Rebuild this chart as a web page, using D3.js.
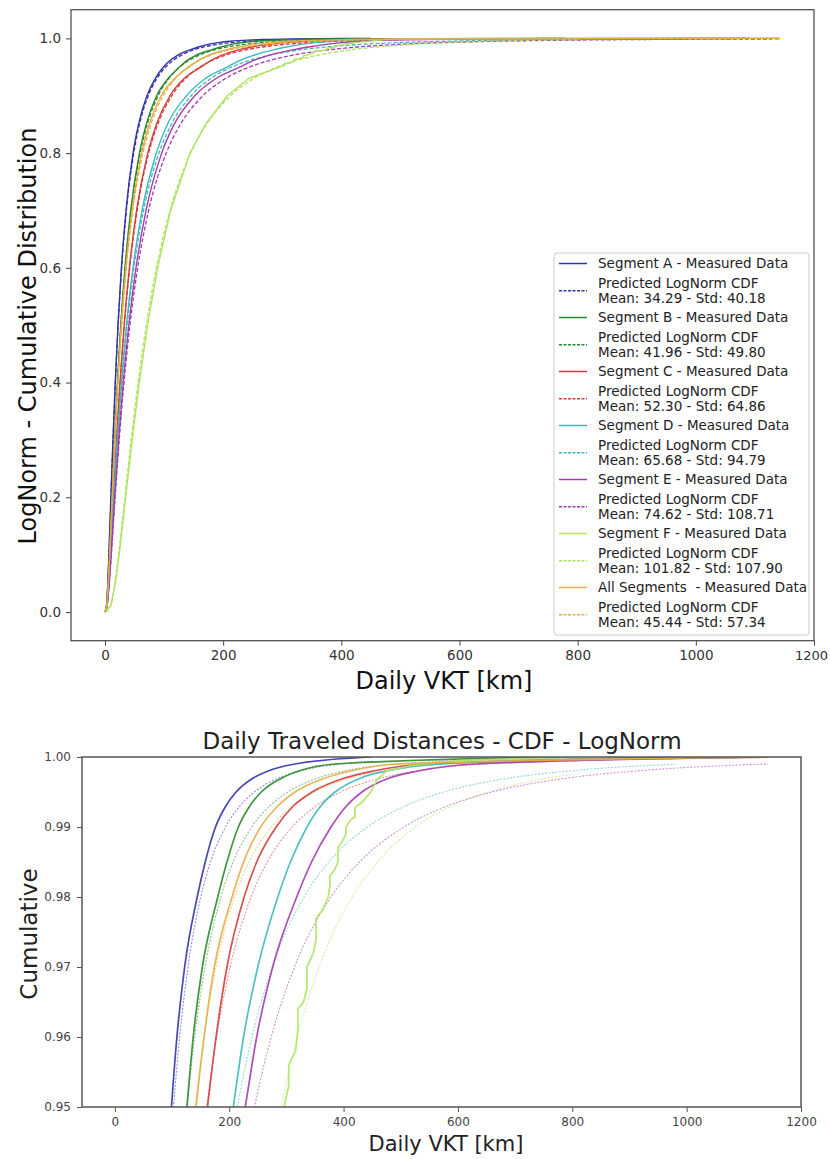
<!DOCTYPE html>
<html><head><meta charset="utf-8">
<script src="https://cdn.jsdelivr.net/npm/d3@7"></script>
<style>
body{margin:0;background:#fff}
svg{display:block;font-family:"DejaVu Sans",sans-serif}
</style>
</head><body>
<svg id="chart" width="830" height="1159"></svg>
<script>
// ---------------- DATA ----------------
const cdfLevels = [0, 0.01, 0.05, 0.1, 0.2, 0.3, 0.4, 0.5, 0.6, 0.7, 0.8, 0.85, 0.9, 0.93, 0.95, 0.96, 0.97, 0.98, 0.985, 0.99, 0.993, 0.995, 0.997, 0.998, 0.999, 1.0];

const segmentNames = ["Segment A", "Segment B", "Segment C", "Segment D", "Segment E", "Segment F", "All Segments "];
const predictedMeans = [34.29, 41.96, 52.30, 65.68, 74.62, 101.82, 45.44];
const predictedStds  = [40.18, 49.80, 64.86, 94.79, 108.71, 107.90, 57.34];

// measured data: daily VKT at each cumulative level (last = 1.0)
const measA = [0, 2.4, 4.7, 6.6, 10.0, 13.5, 17.4, 22.0, 27.8, 35.6, 47.5, 56.8, 71.0, 85.0, 99.0, 108.5, 122.0, 144.0, 158.0, 176.0, 194.0, 212.0, 242.0, 268.0, 315.0, 450];
const measB = [0, 3.0, 5.7, 8.0, 12.1, 16.3, 21.0, 26.7, 33.8, 43.5, 58.3, 69.8, 87.5, 107.0, 126.0, 137.0, 153.0, 180.0, 196.0, 216.0, 236.0, 256.0, 292.0, 322.0, 385.0, 780];
const measC = [0, 3.4, 6.6, 9.4, 14.4, 19.6, 25.4, 32.4, 41.3, 53.5, 72.4, 87.0, 110.0, 134.0, 162.0, 177.0, 196.0, 226.0, 248.0, 282.0, 312.0, 345.0, 402.0, 452.0, 545.0, 1090];
const measD = [0, 3.1, 6.4, 9.4, 15.0, 21.0, 27.9, 36.4, 47.4, 62.8, 86.8, 105.5, 138.0, 170.0, 207.0, 225.0, 250.0, 285.0, 307.0, 336.0, 360.0, 385.0, 430.0, 475.0, 570.0, 980];
const measE = [0, 3.4, 7.1, 10.4, 16.6, 23.2, 30.9, 40.3, 52.5, 69.5, 96.0, 117.0, 152.0, 188.0, 228.0, 248.0, 276.0, 318.0, 344.0, 378.0, 405.0, 432.0, 480.0, 530.0, 630.0, 1142];
const measAll = [0, 2.9, 5.6, 7.9, 12.2, 16.6, 21.6, 27.6, 35.3, 45.8, 62.0, 74.8, 95.0, 118.0, 142.0, 156.0, 174.0, 205.0, 225.0, 255.0, 285.0, 315.0, 368.0, 412.0, 495.0, 1142];
// segment F measured data is step-like (own cumulative levels)
const measF = [0, 9.5, 17.5, 24, 35, 46, 58, 72, 89, 111, 144, 170, 207, 243, 268, 283, 296, 304, 304, 316, 320, 320, 330, 336, 336, 347, 352, 352, 362, 373, 376, 376, 385, 390, 390, 398, 404, 404, 412, 420, 420, 432, 440, 446, 452, 458, 475, 520, 600, 800];
const measFLevels = [0, 0.01, 0.05, 0.1, 0.2, 0.3, 0.4, 0.5, 0.6, 0.7, 0.8, 0.85, 0.9, 0.93, 0.94, 0.945, 0.95, 0.953, 0.956, 0.958, 0.961, 0.964, 0.965, 0.967, 0.970, 0.972, 0.974, 0.977, 0.978, 0.98, 0.9815, 0.983, 0.984, 0.985, 0.987, 0.988, 0.989, 0.990, 0.991, 0.9915, 0.9928, 0.9935, 0.9943, 0.9948, 0.9957, 0.9967, 0.998, 0.9988, 0.9995, 1.0];

// predicted LogNorm CDF: daily VKT at each cumulative level (null = beyond data range)
const predA = [0, 2.56, 4.82, 6.76, 10.18, 13.67, 17.59, 22.26, 28.17, 36.24, 48.67, 58.33, 73.27, 87.76, 102.7, 113.3, 127.9, 150.2, 167.3, 193.5, 218.6, 244.0, 286.4, 323.3, 393.7, null];
const predB = [0, 3.05, 5.78, 8.13, 12.28, 16.53, 21.32, 27.04, 34.28, 44.21, 59.52, 71.45, 89.9, 107.9, 126.4, 139.6, 157.7, 185.4, 206.8, 239.4, 270.7, 302.5, 355.4, 401.7, 490.0, null];
const predC = [0, 3.48, 6.71, 9.53, 14.57, 19.79, 25.71, 32.83, 41.92, 54.46, 73.96, 89.25, 113.1, 136.4, 160.6, 177.9, 201.6, 238.3, 266.6, 310.0, 351.7, 394.4, 465.5, 528.0, 648.1, null];
const predD = [0, 3.17, 6.53, 9.60, 15.32, 21.45, 28.59, 37.40, 48.96, 65.26, 91.37, 112.3, 145.8, 179.1, 214.3, 239.8, 275.2, 330.7, 374.1, 441.5, 507.4, 575.4, 690.6, 793.1, null, null];
const predE = [0, 3.53, 7.30, 10.76, 17.20, 24.13, 32.23, 42.22, 55.33, 73.90, 103.7, 127.6, 165.8, 203.9, 244.3, 273.5, 314.2, 377.9, 427.9, 505.5, 581.3, 659.6, 792.5, 910.7, null, null];
const predF = [0, 9.29, 16.77, 22.98, 33.67, 44.33, 56.09, 69.88, 87.06, 110.2, 145.0, 171.8, 212.5, 251.5, 291.1, 319.1, 357.2, 415.1, 459.3, 525.9, 589.3, 653.0, 758.1, null, null, null];
const predAll = [0, 2.92, 5.67, 8.08, 12.41, 16.92, 22.04, 28.22, 36.13, 47.08, 64.15, 77.61, 98.59, 119.2, 140.5, 155.8, 176.9, 209.4, 234.6, 273.3, 310.6, 348.6, 412.4, 468.3, 576.0, null];
// last predicted point (largest measured VKT, CDF value there)
const predEndX = [450, 780, 1090, 980, 1142, 800, 1142];
const predEndP = [0.99939, 0.99983, 0.99986, 0.99895, 0.999, 0.99752, 0.99992];

const xTicks = [0, 200, 400, 600, 800, 1000, 1200];
const xTickLabels = ["0", "200", "400", "600", "800", "1000", "1200"];
const yTopTicks = [0, 0.2, 0.4, 0.6, 0.8, 1.0];
const yTopTickLabels = ["0.0", "0.2", "0.4", "0.6", "0.8", "1.0"];
const yBotTicks = [0.95, 0.96, 0.97, 0.98, 0.99, 1.00];
const yBotTickLabels = ["0.95", "0.96", "0.97", "0.98", "0.99", "1.00"];

// ---------------- STYLE ----------------
const colors = ["#3333a8", "#2b8a2b", "#d43c3c", "#3cbaba", "#a43ab0", "#aee45e", "#e2ae44"];

// ---------------- BUILD SERIES ----------------
const measuredX = [measA, measB, measC, measD, measE, measF, measAll];
const predictedX = [predA, predB, predC, predD, predE, predF, predAll];
function zip(xs, ps) { return xs.map((x, i) => [x, ps[i]]).filter(d => d[0] != null); }
const series = segmentNames.map((name, i) => ({
  name, color: colors[i],
  measured: zip(measuredX[i], i === 5 ? measFLevels : cdfLevels),
  predicted: zip(predictedX[i], cdfLevels).concat([[predEndX[i], predEndP[i]]]),
  mean: predictedMeans[i], std: predictedStds[i], stepped: i === 5
}));

const svg = d3.select("#chart");

// ================= TOP CHART =================
const T = {l: 71, r: 814, t: 9.7, b: 640.7};
const xT = d3.scaleLinear().domain([-57.5, 1200]).range([T.l, T.r]);
const yT = d3.scaleLinear().domain([-0.05, 1.05]).range([T.b, T.t]);

const gTop = svg.append("g");
svg.append("clipPath").attr("id", "clipTop").append("rect")
  .attr("x", T.l).attr("y", T.t).attr("width", T.r - T.l).attr("height", T.b - T.t);
const topLines = gTop.append("g").attr("clip-path", "url(#clipTop)");
const lineTop = curve => d3.line().x(d => xT(d[0])).y(d => yT(d[1])).curve(curve);
series.forEach(s => {
  topLines.append("path").datum(s.measured)
    .attr("d", lineTop(s.stepped ? d3.curveLinear : d3.curveMonotoneX))
    .attr("fill", "none").attr("stroke", s.color).attr("stroke-width", 1.4);
  topLines.append("path").datum(s.predicted)
    .attr("d", lineTop(d3.curveMonotoneX))
    .attr("fill", "none").attr("stroke", s.color).attr("stroke-width", 1.3)
    .attr("stroke-dasharray", "4,2");
});

gTop.append("rect").attr("x", T.l).attr("y", T.t).attr("width", T.r - T.l).attr("height", T.b - T.t)
  .attr("fill", "none").attr("stroke", "#444").attr("stroke-width", 1.2);

const axXT = gTop.append("g").attr("transform", `translate(0,${T.b})`)
  .call(d3.axisBottom(xT).tickValues(xTicks).tickFormat((d, i) => xTickLabels[i]).tickSize(5).tickPadding(5));
const axYT = gTop.append("g").attr("transform", `translate(${T.l},0)`)
  .call(d3.axisLeft(yT).tickValues(yTopTicks).tickFormat((d, i) => yTopTickLabels[i]).tickSize(5).tickPadding(5));
[axXT, axYT].forEach(a => {
  a.select(".domain").remove();
  a.selectAll("line").attr("stroke", "#444");
  a.selectAll("text").attr("font-size", 13.5).attr("fill", "#333").attr("font-family", "DejaVu Sans");
});
// keep the last x tick label inside the page
axXT.selectAll(".tick text").filter((d, i) => i === xTicks.length - 1).attr("dx", -3).attr("font-size", 13);

gTop.append("text").attr("x", 444).attr("y", 689).attr("text-anchor", "middle")
  .attr("font-size", 24).attr("fill", "#111").text("Daily VKT [km]");
gTop.append("text").attr("transform", "translate(36,336) rotate(-90)").attr("text-anchor", "middle")
  .attr("font-size", 24).attr("fill", "#111").text("LogNorm - Cumulative Distribution");

// legend
const lg = gTop.append("g");
lg.append("rect").attr("x", 554).attr("y", 253).attr("width", 255).attr("height", 382).attr("rx", 3)
  .attr("fill", "#fff").attr("fill-opacity", 0.9).attr("stroke", "#ccc").attr("stroke-width", 1);
series.forEach((s, i) => {
  const y0 = 263.5 + i * 54;
  lg.append("line").attr("x1", 559).attr("x2", 587).attr("y1", y0).attr("y2", y0)
    .attr("stroke", s.color).attr("stroke-width", 1.5);
  lg.append("text").attr("x", 598).attr("y", y0).attr("dy", "0.36em").attr("font-size", 13.5)
    .attr("fill", "#222").style("white-space", "pre").text(s.name + " - Measured Data");
  const y1 = y0 + 19.5, y2 = y0 + 35;
  lg.append("line").attr("x1", 559).attr("x2", 587).attr("y1", (y1 + y2) / 2).attr("y2", (y1 + y2) / 2)
    .attr("stroke", s.color).attr("stroke-width", 1.3).attr("stroke-dasharray", "3,1.5");
  lg.append("text").attr("x", 598).attr("y", y1).attr("dy", "0.36em").attr("font-size", 13.5)
    .attr("fill", "#222").text("Predicted LogNorm CDF");
  lg.append("text").attr("x", 598).attr("y", y2).attr("dy", "0.36em").attr("font-size", 13.5)
    .attr("fill", "#222").text(`Mean: ${s.mean.toFixed(2)} - Std: ${s.std.toFixed(2)}`);
});

// ================= BOTTOM CHART =================
const B = {l: 82, r: 801, t: 757, b: 1107};
const xB = d3.scaleLinear().domain([-57.5, 1200]).range([B.l, B.r]);
const yB = d3.scaleLinear().domain([0.95, 1.0]).range([B.b, B.t]);

const gBot = svg.append("g");
svg.append("clipPath").attr("id", "clipBot").append("rect")
  .attr("x", B.l).attr("y", B.t).attr("width", B.r - B.l).attr("height", B.b - B.t);
const botLines = gBot.append("g").attr("clip-path", "url(#clipBot)");
const lineBot = curve => d3.line().x(d => xB(d[0])).y(d => yB(d[1])).curve(curve);
series.forEach(s => {
  botLines.append("path").datum(s.predicted)
    .attr("d", lineBot(d3.curveMonotoneX))
    .attr("fill", "none").attr("stroke", s.color).attr("stroke-width", 1.1).attr("stroke-opacity", 0.55)
    .attr("stroke-dasharray", "2,1.5");
});
series.forEach(s => {
  botLines.append("path").datum(s.measured)
    .attr("d", lineBot(s.stepped ? d3.curveLinear : d3.curveMonotoneX))
    .attr("fill", "none").attr("stroke", s.color).attr("stroke-width", 1.7).attr("stroke-opacity", 0.9);
});

gBot.append("rect").attr("x", B.l).attr("y", B.t).attr("width", B.r - B.l).attr("height", B.b - B.t)
  .attr("fill", "none").attr("stroke", "#555").attr("stroke-width", 1.5);

const axXB = gBot.append("g").attr("transform", `translate(0,${B.b})`)
  .call(d3.axisBottom(xB).tickValues(xTicks).tickFormat((d, i) => xTickLabels[i]).tickSize(5).tickPadding(5));
const axYB = gBot.append("g").attr("transform", `translate(${B.l},0)`)
  .call(d3.axisLeft(yB).tickValues(yBotTicks).tickFormat((d, i) => yBotTickLabels[i]).tickSize(5).tickPadding(6));
[axXB, axYB].forEach(a => {
  a.select(".domain").remove();
  a.selectAll("line").attr("stroke", "#555");
  a.selectAll("text").attr("font-size", 12).attr("fill", "#444").attr("font-family", "DejaVu Sans");
});

gBot.append("text").attr("x", 442).attr("y", 749).attr("text-anchor", "middle")
  .attr("font-size", 23).attr("fill", "#222").text("Daily Traveled Distances - CDF - LogNorm");
gBot.append("text").attr("x", 446).attr("y", 1151).attr("text-anchor", "middle")
  .attr("font-size", 21).attr("fill", "#222").text("Daily VKT [km]");
gBot.append("text").attr("transform", "translate(37,934) rotate(-90)").attr("text-anchor", "middle")
  .attr("font-size", 23).attr("fill", "#222").text("Cumulative");
</script>
</body></html>
